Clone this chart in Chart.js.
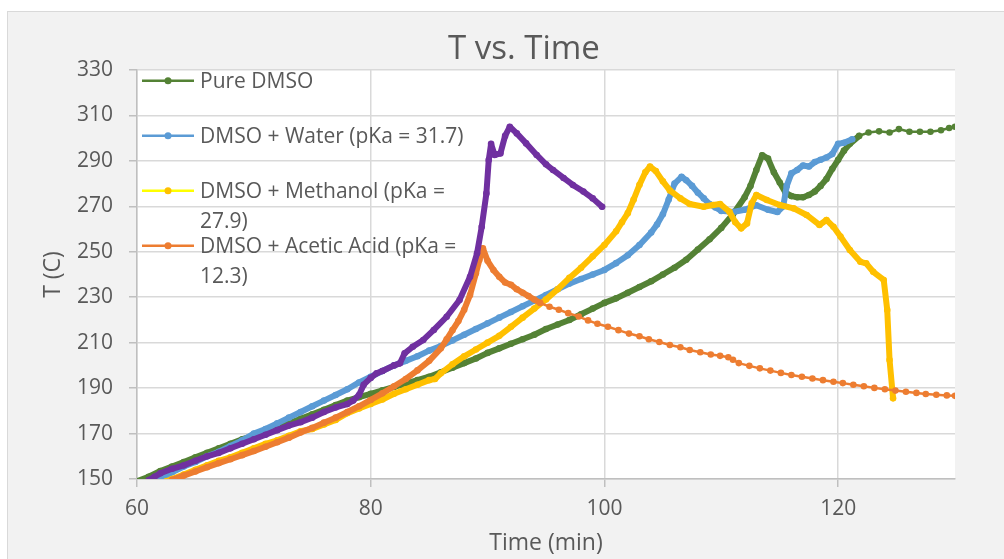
<!DOCTYPE html>
<html>
<head>
<meta charset="utf-8">
<title>T vs. Time</title>
<script src="https://cdn.jsdelivr.net/npm/chart.js@4.4.1/dist/chart.umd.min.js"></script>
<style>
  html, body { margin: 0; padding: 0; overflow: hidden; background: #fff; }
  #panel { position: absolute; left: 7px; top: 11px; width: 1100px; height: 600px; background: #f2f2f2; border: 1px solid #d9d9d9; }
  #chart { position: absolute; left: 0; top: 0; }
</style>
</head>
<body>
<div id="panel"></div>
<canvas id="chart" width="1004" height="559"></canvas>
<script>
// axis ticks
const xTicks = [60, 80, 100, 120];
const yTicks = [150, 170, 190, 210, 230, 250, 270, 290, 310, 330];

// series labels
const pureLabel = 'Pure DMSO';
const waterLabel = 'DMSO + Water (pKa = 31.7)';
const methanolLabel = 'DMSO + Methanol (pKa = 27.9)';
const aceticLabel = 'DMSO + Acetic Acid (pKa = 12.3)';

//! Pure DMSO
const pureTime = [60, 61, 62, 63, 64, 65, 66, 67, 68, 69, 70, 71, 72, 73, 74, 75, 76, 77, 78, 79,
    80, 81, 82, 83, 84, 85, 86, 87, 88, 89, 90, 91, 92, 93, 94, 95, 96, 97, 98, 99,
    100, 101, 102, 103, 104, 105, 106, 107, 108, 109, 110, 111, 112,
    112.5, 113, 113.5, 114, 114.5, 115, 115.5, 116, 116.5, 117, 117.5, 118, 118.5, 119, 119.5, 120, 120.5, 121,
    121.8, 122.6, 123.5, 124.4, 125.2, 126.1, 127, 127.9, 128.8, 129.5, 130];
const pureTemp = [149, 151, 153.5, 155.5, 157.5, 159.5, 161.5, 163.5, 165.5, 167.5, 169, 171, 172.5, 174.5, 176.5, 178.5, 180.5, 182.5, 184.5, 186,
    187.5, 189, 190.5, 192, 193.5, 195, 197, 199, 201, 203, 205.5, 207.5, 209.5, 211.5, 213.5, 216, 218, 220, 222.5, 225,
    227.5, 229.5, 232, 234.5, 237, 240, 243, 246.5, 251, 255.5, 260.5, 266.5, 274,
    279, 286, 292.5, 291, 285, 280.5, 276, 274.5, 274, 274, 275, 276.5, 279, 282, 286.5, 290.5, 294.5, 297.5,
    301, 302.5, 303, 302.5, 304, 302.8, 302.8, 302.8, 303.5, 304.5, 305];

//! DMSO + Water
const waterTime = [62, 62.5, 63, 64, 65, 66, 67, 68, 69, 70, 71, 72, 73, 74, 75, 76, 77, 78, 79, 80,
    81, 82, 83, 84, 85, 86, 87, 88, 89, 90, 91, 92, 93, 94, 95, 96, 97, 98, 99, 100,
    101, 102, 103, 104, 104.5, 105, 105.5, 106, 106.6, 107, 107.5, 108, 108.5, 109, 109.5, 110,
    111, 112, 113, 114, 114.8, 115.3, 115.6, 116, 116.5, 117, 117.5, 118, 118.5, 119, 119.5, 120, 120.5, 121.2];
const waterTemp = [149.5, 151.5, 153, 155.5, 157.5, 160, 162, 164.5, 167, 170, 172, 174.5, 177, 179.5, 182, 184.5, 187, 189.5, 192.5, 195,
    197.5, 200, 202, 204, 206.5, 208.5, 211, 213.5, 216, 218.5, 221, 223.5, 226, 228.5, 231, 233.5, 236, 238, 240, 242,
    245, 248.5, 253, 258.5, 262, 266.5, 273, 280, 283, 281.5, 279, 276, 273.5, 271, 269.5, 268,
    267.5, 268.5, 270.5, 268.5, 267.5, 270, 279, 284.5, 286, 288, 287.5, 289.5, 290.5, 291.5, 293, 297.5, 298, 299.5];

//! DMSO + Methanol
const methanolTime = [62.5, 63, 64, 65, 66, 67, 68, 69, 70, 71, 72, 73, 74, 75, 76, 77, 78, 79, 80, 81,
    82, 83, 84, 85, 85.5, 86, 87, 88, 89, 90, 91, 92, 93, 94, 95, 96, 97, 98, 99, 100, 101,
    101.5, 102, 102.5, 103, 103.5, 103.9, 104.4, 105, 105.6, 106.5, 107.3, 108.5, 109.3, 109.9, 110.7,
    111.2, 111.7, 112.2, 112.6, 113, 113.9, 115, 116.2, 117.3, 118.4, 119, 119.6, 120.2, 121,
    121.9, 122.4, 123, 123.9, 124.2, 124.4, 124.7];
const methanolTemp = [149, 150, 152, 154, 156, 158, 159.5, 161.5, 163.5, 165.5, 167, 169, 171, 172, 174, 176, 179, 181, 183, 185,
    187.5, 189.5, 191.5, 193.5, 194, 196.5, 200.5, 204, 207, 210, 213, 217, 221, 225, 229, 233.5, 238.5, 243, 248, 253, 259,
    263, 267, 273, 279.5, 285, 287.5, 285.5, 281, 277, 273.5, 271, 269.8, 270.6, 271, 267.6,
    263, 260.3, 262.5, 271.3, 275, 272.8, 270.6, 269.1, 266.2, 261.8, 264, 261, 256.7, 250.8,
    245.6, 244.9, 241.2, 237.6, 224.4, 202.4, 185.5];

//! DMSO + Acetic Acid
const aceticTime = [63, 64, 65, 66, 67, 68, 69, 70, 71, 72, 73, 74, 75, 76, 77, 78, 79, 80, 81, 82, 83, 84, 85, 86,
    86.5, 87, 87.5, 88, 88.5, 89, 89.3, 89.6, 90, 90.5, 91, 91.5, 92, 92.5, 93, 93.5, 94, 94.5,
    95.3, 96.1, 96.9, 97.8, 98.6, 99.4, 100.3, 101.2, 102.1, 103, 103.8, 104.7, 105.6, 106.5, 107.3, 108.2,
    109.1, 109.9, 110.6, 111, 111.5, 112.4, 113.3, 114.2, 115.1, 116, 116.9, 117.8, 118.7, 119.6, 120.4,
    121.3, 122.2, 123.1, 124, 124.9, 125.8, 126.7, 127.5, 128.4, 129.3, 130];
const aceticTemp = [149.6, 151.5, 153.3, 155.2, 157, 158.7, 160.5, 162.3, 164.2, 166.2, 168.2, 170.5, 172.5, 174.8, 177, 179.5, 182, 184.8, 187.7, 190.8, 194, 197.8, 202, 207.5,
    211.5, 215.5, 219.5, 224.5, 231, 240.5, 246.5, 251.5, 246, 242, 239, 236.5, 235.5, 233.5, 232, 230.5, 229, 227.5,
    225.8, 224.5, 223, 221.5, 219.8, 218.3, 217, 215.5, 214, 212.8, 211.5, 210.3, 209, 208, 206.8, 205.8,
    204.8, 204.2, 203.6, 202.5, 201, 199.8, 198.7, 197.7, 196.7, 195.8, 195, 194.2, 193.5, 192.8, 192.2,
    191.5, 190.8, 190.1, 189.5, 188.9, 188.4, 187.9, 187.4, 187.1, 186.8, 186.6];

//! unlabelled run (purple)
const otherTime = [61, 61.5, 62, 63, 64, 65, 66, 67, 68, 69, 70, 71, 72, 73, 74, 75, 76, 77, 78,
    78.5, 79, 79.4, 80, 80.5, 81, 82, 82.5, 82.9, 83.6, 84.5, 85.4, 86.5, 87.6, 88.5, 89.1, 89.5, 89.9,
    90.1, 90.3, 90.6, 91.1, 91.5, 91.9, 92.5, 93.3, 94.2, 95, 95.6, 96.5, 97.3, 98.2, 99, 99.8];
const otherTemp = [149.5, 151, 152.5, 154.5, 156, 158, 160, 161.5, 163.5, 165.5, 167.5, 169.5, 171.5, 173.5, 175, 177, 179.5, 181.5, 183,
    184.5, 187, 191.5, 194.5, 196.5, 197.5, 200, 200.9, 205.3, 208.2, 211.2, 215.6, 221.4, 228.8, 239, 249.3, 261, 275.7,
    290.4, 297.5, 292.6, 293.3, 301, 305, 302.1, 297.7, 292.6, 288.5, 286, 282.5, 279.4, 276.5, 273.5, 269.8];

Chart.defaults.font.family = '"Open Sans", sans-serif';
Chart.defaults.color = '#595959';

// dense sampling looks like a fat line, sparse sampling shows the dots
function series(label, times, temps, color, thinFrom, order, legendLine) {
    return {
        label: label,
        order: order,
        legendLine: legendLine || color,
        data: times.map((t, i) => ({ x: t, y: temps[i] })),
        borderColor: color,
        backgroundColor: color,
        borderWidth: 6,
        borderCapStyle: 'round',
        borderJoinStyle: 'round',
        pointRadius: 3.3,
        pointBorderWidth: 0,
        pointBackgroundColor: color,
        segment: {
            borderWidth: ctx => ctx.p0.parsed.x >= thinFrom ? 2.5 : 6,
        },
    };
}

const plotBackground = {
    id: 'plotBackground',
    beforeDraw(chart) {
        const { ctx, chartArea: a } = chart;
        ctx.save();
        ctx.fillStyle = '#ffffff';
        ctx.fillRect(a.left, a.top, a.right - a.left, a.bottom - a.top);
        ctx.restore();
    }
};

const excelLegend = {
    id: 'excelLegend',
    afterDatasetsDraw(chart) {
        const { ctx, chartArea: a } = chart;
        ctx.save();
        ctx.font = '21px "Open Sans"';
        ctx.textBaseline = 'alphabetic';
        let row = 0;
        chart.data.datasets.forEach(ds => {
            if (!ds.label) return;
            const base = a.top + 18.3 + row * 55;
            const mid = base - 7.6;
            ctx.strokeStyle = ds.legendLine;
            ctx.lineWidth = 2.5;
            ctx.beginPath();
            ctx.moveTo(a.left + 5, mid);
            ctx.lineTo(a.left + 57, mid);
            ctx.stroke();
            ctx.fillStyle = ds.borderColor;
            ctx.beginPath();
            ctx.arc(a.left + 31, mid, 3.5, 0, Math.PI * 2);
            ctx.fill();
            // wrap like the Excel legend box
            const lines = [];
            let line = '';
            ds.label.split(' ').forEach(w => {
                const test = line ? line + ' ' + w : w;
                if (line && ctx.measureText(test).width > 275) {
                    lines.push(line);
                    line = w;
                } else {
                    line = test;
                }
            });
            lines.push(line);
            ctx.fillStyle = '#595959';
            lines.forEach((l, k) => ctx.fillText(l, a.left + 63, base + k * 29.5));
            row++;
        });
        // chart title
        ctx.font = '33px "Open Sans"';
        ctx.textAlign = 'center';
        ctx.fillText('T vs. Time', 524, 59);
        ctx.restore();
    }
};

const chartCanvas = document.getElementById('chart').getContext('2d');

new Chart(chartCanvas, {
    type: 'line',
    data: {
        datasets: [
            series(pureLabel, pureTime, pureTemp, '#548235', 121.5, 5),
            series(waterLabel, waterTime, waterTemp, '#5B9BD5', Infinity, 4),
            series(methanolLabel, methanolTime, methanolTemp, '#FFC000', Infinity, 3, '#FFFF00'),
            series(aceticLabel, aceticTime, aceticTemp, '#ED7D31', 94.5, 2),
            series('', otherTime, otherTemp, '#7030A0', Infinity, 1),
        ]
    },
    options: {
        responsive: false,
        animation: false,
        layout: {
            padding: { top: 70, right: 49, bottom: 0, left: 0 }
        },
        plugins: {
            legend: { display: false },
            tooltip: { enabled: false },
        },
        scales: {
            x: {
                type: 'linear',
                min: 60,
                max: 130,
                afterFit: scale => { scale.height = 80; },
                afterBuildTicks: scale => { scale.ticks = xTicks.map(v => ({ value: v })); },
                grid: {
                    color: '#d9d9d9',
                    lineWidth: 1.5,
                    tickLength: 8,
                    tickColor: '#bfbfbf',
                },
                border: { color: '#bfbfbf', width: 1.5 },
                ticks: { font: { size: 21 }, color: '#595959', padding: 9, maxRotation: 0 },
                title: {
                    display: true,
                    text: 'Time (min)',
                    font: { size: 23 },
                    color: '#595959',
                    padding: { top: 0, bottom: 2 },
                },
            },
            y: {
                min: 150,
                max: 330,
                afterFit: scale => { scale.width = 137; },
                afterBuildTicks: scale => { scale.ticks = yTicks.map(v => ({ value: v })); },
                grid: {
                    color: '#d9d9d9',
                    lineWidth: 1.5,
                    tickLength: 8,
                    tickColor: '#bfbfbf',
                },
                border: { color: '#bfbfbf', width: 1.5 },
                ticks: { font: { size: 21 }, color: '#595959', padding: 16 },
                title: {
                    display: true,
                    text: 'T (C)',
                    font: { size: 23 },
                    color: '#595959',
                    padding: { top: 40, bottom: 0 },
                },
            },
        },
    },
    plugins: [plotBackground, excelLegend],
});
</script>
</body>
</html>
